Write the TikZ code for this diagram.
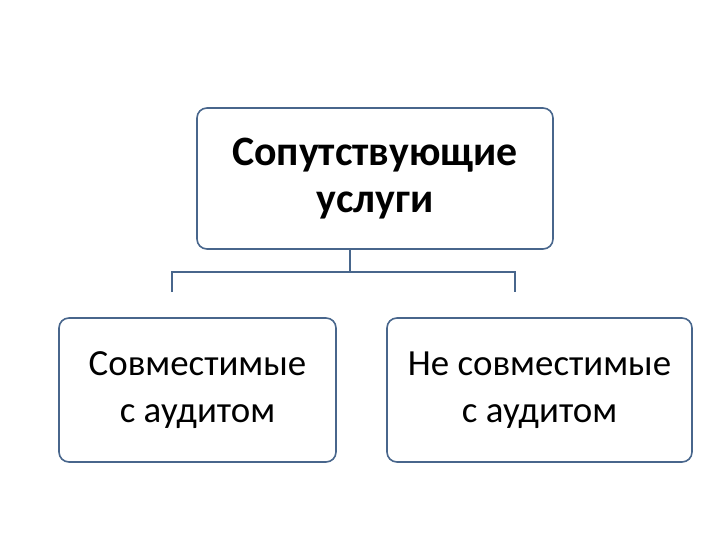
\documentclass[tikz,border=0pt]{standalone}
\usepackage{fontspec}
\setmainfont{Carlito}
\usepackage{tikz}
\usetikzlibrary{positioning,calc}
\definecolor{boxline}{RGB}{72,102,140}
\tikzset{
  card/.style={
    shape = rectangle,
    draw = boxline,
    line width = 1.6pt,
    rounded corners = 10pt,
    fill = white,
    align = center,
    inner sep = 0pt
  },
}
\tikzset{
  topcard/.style={
    card,
    minimum width = 356bp,
    minimum height = 141bp,
    font = \fontsize{42}{48}\selectfont\bfseries
  },
  subcard/.style={
    card,
    minimum height = 144bp,
    font = \fontsize{37}{47}\selectfont
  },
  link/.style={
    draw = boxline,
    line width = 1.6pt
  }
}

\begin{document}
\begin{tikzpicture}[x=1bp,y=-1bp]
    \useasboundingbox (0,0) rectangle (720,540);

    \node[topcard] (svc) at (375,178.5) {Сопутствующие\\услуги};
    \node[subcard, minimum width=277bp] (comp) at (197.5,390) {Совместимые\\с аудитом};
    \node[subcard, minimum width=305bp] (incomp) at (539.5,390) {Не совместимые\\с аудитом};

    \coordinate (fork) at (350,272);
    \coordinate (legL) at (172,292);
    \coordinate (legR) at (515,292);

    \draw[link] (svc.south -| fork) -- (fork);
    \draw[link] (legL) |- (fork) -| (legR);
\end{tikzpicture}
\end{document}
